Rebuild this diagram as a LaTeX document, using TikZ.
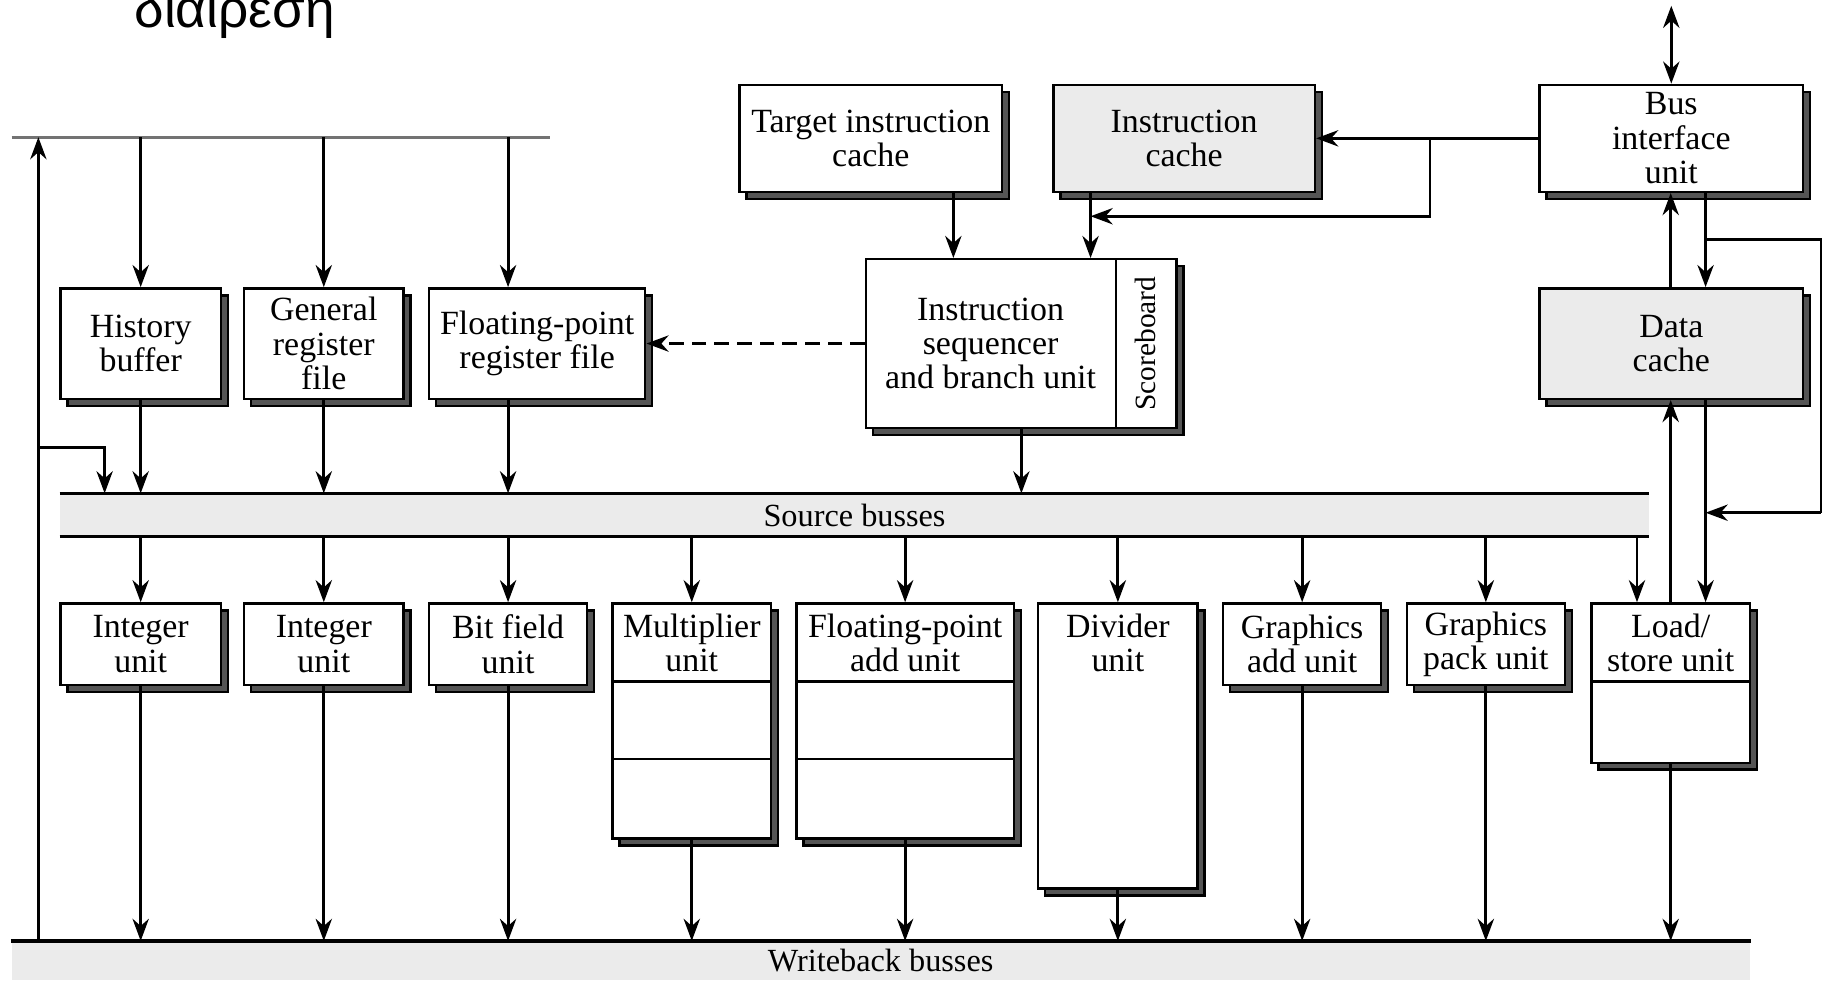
\documentclass[tikz,border=0pt]{standalone}
\usepackage{fontspec}
\setmainfont{Liberation Serif}
\newfontfamily\greekfont{Liberation Sans}
\usetikzlibrary{arrows.meta,shadows}
\definecolor{busgray}{HTML}{EBEBEB}
\definecolor{shadegray}{HTML}{555555}
\newcommand{\blkfont}{\fontsize{8.3}{8.4}\selectfont}
\newcommand{\busfont}{\fontsize{7.9}{8}\selectfont}
\tikzset{
  blk/.style={draw, line width=0.6pt, fill=white, align=center, inner sep=1pt,
    font=\blkfont,
    general shadow={shadow xshift=0.06cm, shadow yshift=-0.06cm,
      fill=shadegray, draw=black, line width=0.6pt}},
  cacheblk/.style={blk, fill=busgray},
  unittxt/.style={anchor=north, align=center, font=\blkfont, inner sep=0pt,
    minimum height=0.68cm},
  bus/.style={fill=busgray, inner sep=0pt, font=\busfont},
  busline/.style={line width=0.8pt},
  arr/.style={line width=0.7pt, -{Stealth[length=1.9mm,width=1.4mm]}},
  darr/.style={line width=0.7pt,
    {Stealth[length=1.9mm,width=1.4mm]}-{Stealth[length=1.9mm,width=1.4mm]}},
}
\begin{document}
\begin{tikzpicture}
  \useasboundingbox (0,0) rectangle (15.68,8.43);
  \clip (0,0) rectangle (15.68,8.43);
  % heading, cut off at the top
  \node[font=\greekfont\fontsize{13}{14}\selectfont, anchor=base west, inner sep=0pt]
    (title) at (1.15,8.19) {διαιρεση};

  % register files and caches
  \node[blk, minimum width=1.38cm, minimum height=0.95cm] (hist) at (1.21,5.475) {History\\buffer};
  \node[blk, minimum width=1.37cm, minimum height=0.95cm] (grf) at (2.785,5.475) {General\\register\\file};
  \node[blk, minimum width=1.86cm, minimum height=0.95cm] (fprf) at (4.62,5.475) {Floating-point\\register file};
  \node[blk, minimum width=2.26cm, minimum height=0.92cm] (tic) at (7.49,7.24) {Target instruction\\cache};
  \node[cacheblk, minimum width=2.25cm, minimum height=0.92cm] (ic) at (10.185,7.24) {Instruction\\cache};
  \node[blk, minimum width=2.27cm, minimum height=0.92cm] (biu) at (14.375,7.24) {Bus\\interface\\unit};
  \node[cacheblk, minimum width=2.27cm, minimum height=0.95cm] (dc) at (14.375,5.475) {Data\\cache};

  % sequencer with scoreboard
  \node[blk, minimum width=2.67cm, minimum height=1.45cm] (seq) at (8.785,5.475) {};
  \node[font=\blkfont, align=center, inner sep=0pt] (seqtxt) at (8.52,5.475) {Instruction\\sequencer\\and branch unit};
  \node[font=\fontsize{7.2}{7.3}\selectfont, rotate=90, inner sep=0pt] (score) at (9.855,5.475) {Scoreboard};
  \draw[line width=0.6pt] ([xshift=-0.53cm]seq.north east) -- ([xshift=-0.53cm]seq.south east);

  % busses
  \coordinate (tbw) at (0.10,7.25);
  \coordinate (tbe) at (4.73,7.25);
  \draw[line width=0.7pt, black!55] (tbw) -- (tbe);
  \node[bus, minimum width=13.66cm, minimum height=0.36cm] (src) at (7.35,4.00) {Source busses};
  \draw[busline] (src.north west) -- (src.north east);
  \draw[busline] (src.south west) -- (src.south east);
  \node[bus, minimum width=14.95cm, minimum height=0.33cm] (wb) at (7.575,0.165) {Writeback busses};
  \draw[busline] (wb.north west) -- (wb.north east);

  % execution units
  \node[blk, anchor=north, minimum width=1.38cm, minimum height=0.70cm] (int1) at (1.21,3.25) {Integer\\unit};
  \node[blk, anchor=north, minimum width=1.37cm, minimum height=0.70cm] (int2) at (2.785,3.25) {Integer\\unit};
  \node[blk, anchor=north, minimum width=1.36cm, minimum height=0.70cm] (bfu) at (4.37,3.25) {Bit field\\unit};
  \node[blk, anchor=north, minimum width=1.36cm, minimum height=2.02cm] (mul) at (5.95,3.25) {};
  \node[unittxt] (multxt) at (mul.north) {Multiplier\\unit};
  \node[blk, anchor=north, minimum width=1.87cm, minimum height=2.02cm] (fpa) at (7.785,3.25) {};
  \node[unittxt] (fpatxt) at (fpa.north) {Floating-point\\add unit};
  \node[blk, anchor=north, minimum width=1.37cm, minimum height=2.45cm] (divu) at (9.615,3.25) {};
  \node[unittxt] (divtxt) at (divu.north) {Divider\\unit};
  \node[blk, anchor=north, minimum width=1.36cm, minimum height=0.70cm] (gau) at (11.20,3.25) {Graphics\\add unit};
  \node[blk, anchor=north, minimum width=1.36cm, minimum height=0.70cm] (gpu) at (12.78,3.25) {Graphics\\pack unit};
  \node[blk, anchor=north, minimum width=1.36cm, minimum height=1.37cm] (lsu) at (14.37,3.25) {};
  \node[unittxt] (lsutxt) at (lsu.north) {Load/\\store unit};
  % pipeline stages
  \draw[line width=0.6pt] ([yshift=-0.68cm]mul.north west) -- ([yshift=-0.68cm]mul.north east);
  \draw[line width=0.6pt] ([yshift=-1.35cm]mul.north west) -- ([yshift=-1.35cm]mul.north east);
  \draw[line width=0.6pt] ([yshift=-0.68cm]fpa.north west) -- ([yshift=-0.68cm]fpa.north east);
  \draw[line width=0.6pt] ([yshift=-1.35cm]fpa.north west) -- ([yshift=-1.35cm]fpa.north east);
  \draw[line width=0.6pt] ([yshift=-0.68cm]lsu.north west) -- ([yshift=-0.68cm]lsu.north east);

  % register files to source busses
  \draw[arr] (hist.north |- tbw) -- (hist.north);
  \draw[arr] (grf.north |- tbw) -- (grf.north);
  \draw[arr] (4.37,0 |- tbw) -- (4.37,0 |- fprf.north);
  \draw[arr] (hist.south) -- (hist.south |- src.north);
  \draw[arr] (grf.south) -- (grf.south |- src.north);
  \draw[arr] (4.37,0 |- fprf.south) -- (4.37,0 |- src.north);
  \draw[arr] (wb.north -| 0.33,0) -- (tbw -| 0.33,0);
  \coordinate (fbk) at (0.33,4.58);
  \draw[arr] (fbk) -| (0.90,0 |- src.north);

  % instruction fetch
  \draw[arr] (8.20,0 |- tic.south) -- (8.20,0 |- seq.north);
  \draw[arr] (9.38,0 |- ic.south) -- (9.38,0 |- seq.north);
  \draw[arr] (biu.west) -- (ic.east);
  \coordinate (icbr) at (12.30,7.24);
  \draw[arr] (icbr) |- (9.38,6.57);
  \draw[arr, dash pattern=on 1.25mm off 0.7mm] (seq.west) -- (fprf.east);
  \draw[arr] (seq.south) -- (seq.south |- src.north);

  % bus interface and data cache
  \coordinate (extbus) at (14.375,8.38);
  \draw[darr] (biu.north) -- (extbus);
  \draw[arr] (14.37,0 |- dc.north) -- (14.37,0 |- biu.south);
  \draw[arr] (14.67,0 |- biu.south) -- (14.67,0 |- dc.north);
  \coordinate (lpa) at (14.67,6.37);
  \coordinate (lpb) at (15.66,6.37);
  \coordinate (lpc) at (15.66,4.02);
  \draw[line width=0.55pt] (lpa) -- (lpb) -- (lpc);
  \draw[arr] (lpc) -- (14.67,4.02);
  \draw[arr] (14.37,0 |- lsu.north) -- (14.37,0 |- dc.south);
  \draw[arr] (14.67,0 |- dc.south) -- (14.67,0 |- lsu.north);

  % source busses to units
  \draw[arr] (int1.north |- src.south) -- (int1.north);
  \draw[arr] (int2.north |- src.south) -- (int2.north);
  \draw[arr] (bfu.north |- src.south) -- (bfu.north);
  \draw[arr] (mul.north |- src.south) -- (mul.north);
  \draw[arr] (fpa.north |- src.south) -- (fpa.north);
  \draw[arr] (divu.north |- src.south) -- (divu.north);
  \draw[arr] (gau.north |- src.south) -- (gau.north);
  \draw[arr] (gpu.north |- src.south) -- (gpu.north);
  \draw[arr] (14.08,0 |- src.south) -- (14.08,0 |- lsu.north);

  % units to writeback busses
  \draw[arr] (int1.south) -- (int1.south |- wb.north);
  \draw[arr] (int2.south) -- (int2.south |- wb.north);
  \draw[arr] (bfu.south) -- (bfu.south |- wb.north);
  \draw[arr] (mul.south) -- (mul.south |- wb.north);
  \draw[arr] (fpa.south) -- (fpa.south |- wb.north);
  \draw[arr] (divu.south) -- (divu.south |- wb.north);
  \draw[arr] (gau.south) -- (gau.south |- wb.north);
  \draw[arr] (gpu.south) -- (gpu.south |- wb.north);
  \draw[arr] (lsu.south) -- (lsu.south |- wb.north);
\end{tikzpicture}
\end{document}
